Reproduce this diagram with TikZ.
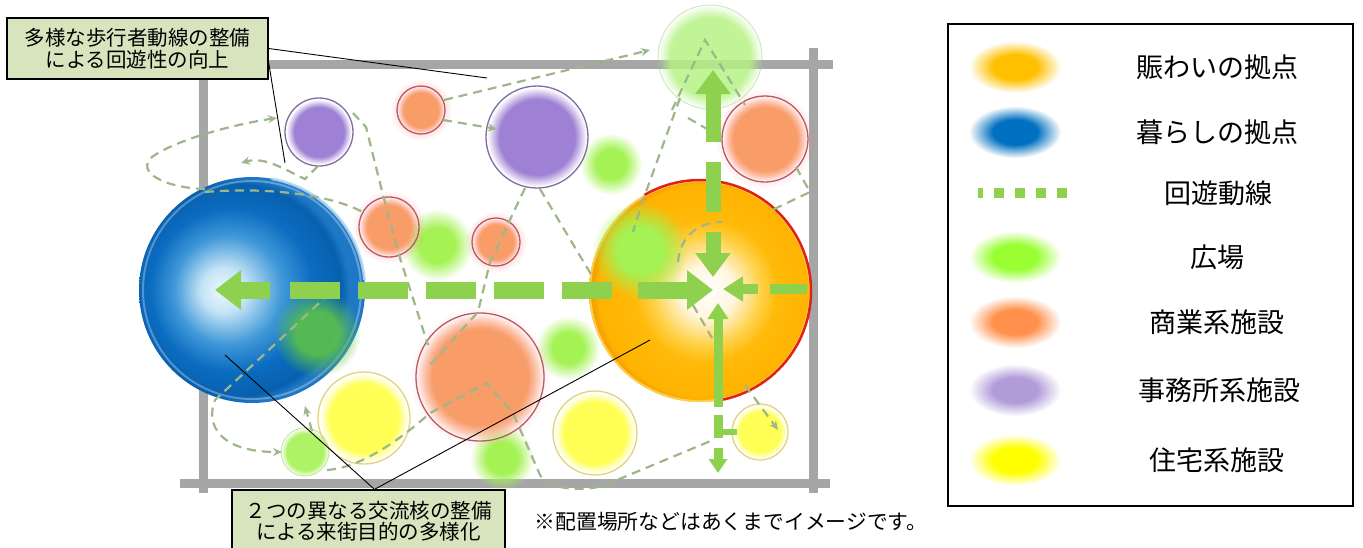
\documentclass[tikz,border=0pt]{standalone}
\usepackage{fontspec}
\setmainfont{Noto Sans CJK JP}
\usetikzlibrary{arrows.meta,fadings}

\definecolor{framegray}{HTML}{A6A6A6}
\definecolor{trailc}{HTML}{9DB78A}
\definecolor{mainarrow}{HTML}{8ED14F}
\definecolor{boxfill}{HTML}{D7E4BD}
\definecolor{greenblob}{HTML}{A4F254}
\definecolor{darkgreenblob}{HTML}{5CC24A}
\definecolor{topgreen}{HTML}{B6F285}
\definecolor{shopc}{HTML}{F99D68}
\definecolor{shopline}{HTML}{B85A62}
\definecolor{halored}{HTML}{FF7070}
\definecolor{officec}{HTML}{9E80D4}
\definecolor{officeline}{HTML}{7F6C9E}
\definecolor{housec}{HTML}{FFFF55}
\definecolor{houseline}{HTML}{E2D27A}
\definecolor{lgOrange}{HTML}{FFC000}
\definecolor{lgBlue}{HTML}{0070C0}
\definecolor{lgGreen}{HTML}{99FF33}
\definecolor{lgShop}{HTML}{FF914D}
\definecolor{lgOffice}{HTML}{B19CD9}
\definecolor{lgHouse}{HTML}{FFFF00}
\definecolor{redrim}{HTML}{E0201A}
\definecolor{yellowrim}{HTML}{FFD75E}
\definecolor{bluegloss}{HTML}{B8DDF5}

\definecolor{bA}{HTML}{EEF8FD}
\definecolor{bB}{HTML}{C4E3F6}
\definecolor{bC}{HTML}{3F98D8}
\definecolor{bD}{HTML}{0B6CC0}
\definecolor{bE}{HTML}{0860AE}
\definecolor{bF}{HTML}{1F78C6}
\pgfdeclareradialshading{blueball}{\pgfpoint{-7bp}{0bp}}{color(0bp)=(bA); color(5bp)=(bB); color(12bp)=(bC); color(18bp)=(bD); color(23.5bp)=(bE); color(25bp)=(bF); color(50bp)=(bF)}

\definecolor{oA}{HTML}{FFFFFF}
\definecolor{oB}{HTML}{FFF6DE}
\definecolor{oC}{HTML}{FFD24A}
\definecolor{oD}{HTML}{FFBA0A}
\definecolor{oE}{HTML}{FFB300}
\definecolor{oF}{HTML}{F5A300}
\pgfdeclareradialshading{orangeball}{\pgfpoint{2bp}{0bp}}{color(0bp)=(oA); color(6bp)=(oB); color(12bp)=(oC); color(16bp)=(oD); color(24bp)=(oE); color(25bp)=(oF); color(50bp)=(oF)}

\pgfdeclareradialshading{fadeblobS}{\pgfpointorigin}{color(0bp)=(white); color(12bp)=(white); color(25bp)=(black); color(50bp)=(black)}
\pgfdeclarefading{blob}{\pgfuseshading{fadeblobS}}
\pgfdeclareradialshading{fadeedgeS}{\pgfpointorigin}{color(0bp)=(white); color(19bp)=(white); color(25bp)=(black); color(50bp)=(black)}
\pgfdeclarefading{edge}{\pgfuseshading{fadeedgeS}}

\newcommand\greenspot[3]{\fill[greenblob, path fading=blob] (#1,#2) circle ({(#3)*1pt});}
\newcommand\facility[5]{%
  \fill[#4, path fading=edge] (#1,#2) circle ({(#3-1.5)*1pt});
  \draw[#5, line width=1.3pt] (#1,#2) circle ({(#3)*1pt});}
\newcommand\shopspot[3]{%
  \fill[halored, opacity=.45, path fading=blob] (#1,#2) circle ({(#3+7)*1pt});
  \facility{#1}{#2}{#3}{shopc}{shopline}}

\tikzset{
  trail/.style={draw=trailc, line width=2.2pt, dash pattern=on 9pt off 6pt},
  trailtip/.style={-{Stealth[length=9pt,width=8pt]}},
  callout/.style={draw=black, line width=1.3pt, fill=boxfill, align=center, inner sep=0pt,
    font=\fontsize{20.5}{21.5}\selectfont},
  calloutline/.style={draw=black, line width=0.9pt},
  legendtext/.style={font=\fontsize{27}{30}\selectfont, anchor=center},
  framebar/.style={draw=framegray, line width=9pt},
}

\begin{document}
\begin{tikzpicture}[x=1pt,y=-1pt]
\useasboundingbox (0,0) rectangle (1363,547);

% frame
\draw[framebar] (195,64) -- (833,64);
\draw[framebar] (203,64) -- (203,493);
\draw[framebar] (813,48) -- (813,493);
\draw[framebar] (180,483) -- (830,483);

% big hubs
\shade[shading=blueball] (252,290) circle (113pt);
\draw[white, opacity=.3, line width=2pt] (252,290) circle (109pt);
\draw[bluegloss, opacity=.8, line width=3pt] (252+19.6,290-111.3) arc[start angle=80, end angle=5, radius=113pt];
\shade[shading=orangeball] (700,291) circle (111pt);
\draw[yellowrim, opacity=.8, line width=2pt] (700,291) circle (110pt);
\draw[redrim, line width=2.5pt] (644.5,194.9) arc[start angle=120, end angle=-78, radius=111pt];

% plazas
\greenspot{611}{164}{31}
\greenspot{437}{245}{36}
\greenspot{640}{250}{48}
\fill[darkgreenblob, opacity=.9, path fading=blob] (317,333) circle (44pt);
\greenspot{568}{348}{32}
\greenspot{502}{458}{32}
\fill[topgreen, opacity=.85, path fading=edge] (710,57) circle (52pt);
\draw[topgreen!70!gray, opacity=.5, line width=1pt] (710,57) circle (52pt);
\fill[greenblob, opacity=.9, path fading=edge] (305,452) circle (24pt);
\draw[greenblob!70!gray, opacity=.5, line width=1pt] (305,452) circle (24pt);

% facilities
\facility{319}{132}{34}{officec}{officeline}
\facility{537}{137}{51}{officec}{officeline}
\shopspot{421}{110}{24}
\shopspot{765}{139}{43}
\shopspot{389}{227}{30}
\shopspot{496}{242}{24}
\shopspot{480}{377}{64}
\facility{364}{418}{46}{housec}{houseline}
\facility{595}{433}{42}{housec}{houseline}
\facility{760}{432}{28}{housec}{houseline}

% thin circulation paths
\draw[trail, trailtip] (205,189) .. controls (165,188) and (135,172) .. (152,157) .. controls (175,140) and (235,124) .. (277,118);
\draw[trail, trailtip] (318,166) -- (305,179) .. controls (285,170) and (265,156) .. (241,163);
\draw[trail] (205,192) .. controls (280,186) and (340,198) .. (366,214);
\draw[trail] (353,113) -- (366,127) -- (383,195) -- (400,258) -- (428,345);
\draw[trail, trailtip] (444,100) -- (650,50);
\draw[trail, trailtip] (443,120) -- (497,129);
\draw[trail] (525,188) -- (490,262) -- (478,312) -- (430,365);
\draw[trail] (540,189) -- (592,276);
\draw[trail] (680,98) -- (643,200) -- (633,232);
\draw[trail] (672,110) -- (705,40) -- (745,105);
\draw[trail] (688,118) -- (726,140);
\draw[trail] (796,167) -- (810,192) -- (768,212);
\draw[trail, trailtip] (330,293) -- (215,400) .. controls (205,425) and (220,452) .. (282,452);
\draw[trail, trailtip] (312,431) -- (305,406);
\draw[trail] (327,470) .. controls (360,468) and (400,440) .. (430,413) -- (487,383) -- (513,413) -- (540,475) .. controls (548,490) and (585,492) .. (605,485) -- (713,440);
\draw[trail, trailtip] (745,385) -- (778,430);
\draw[trail] (693,305) -- (712,338);
\draw[trail] (678,262) .. controls (680,235) and (700,222) .. (722,222);

% main circulation arrows
\draw[mainarrow, line width=17pt, -{Triangle[length=26pt,width=38pt]}] (270,290) -- (215,290);
\draw[mainarrow, line width=17pt, dash pattern=on 50pt off 18pt] (290,290) -- (614,290);
\draw[mainarrow, line width=17pt, -{Triangle[length=26pt,width=38pt]}] (638,290) -- (713,290);
\draw[mainarrow, line width=15pt, -{Triangle[length=24pt,width=34pt]}] (713,142) -- (713,70);
\draw[mainarrow, line width=15pt] (713,162) -- (713,212);
\draw[mainarrow, line width=15pt, -{Triangle[length=24pt,width=34pt]}] (713,232) -- (713,277);
\draw[mainarrow, line width=9pt, -{Triangle[length=16pt,width=20pt]}] (718,407) -- (718,303);
\draw[mainarrow, line width=9pt] (718,415) -- (718,438);
\draw[mainarrow, line width=6pt] (718,432) -- (737,432);
\draw[mainarrow, line width=9pt, -{Triangle[length=14pt,width=18pt]}] (718,448) -- (718,473);
\draw[mainarrow, line width=10pt, -{Triangle[length=20pt,width=24pt]}] (758,289) -- (723,289);
\draw[mainarrow, line width=10pt] (770,289) -- (807,289);

% callouts
\node[callout, minimum width=261pt, minimum height=61pt] (box1) at (137.5,48.5) {多様な歩行者動線の整備\\による回遊性の向上};
\coordinate (c1a) at (487,78);
\coordinate (c1b) at (285,163);
\draw[calloutline] (box1.east) -- (c1a);
\draw[calloutline] ([yshift=-14pt]box1.east) -- (c1b);

\node[callout, minimum width=273pt, minimum height=62pt] (box2) at (368.5,521) {２つの異なる交流核の整備\\による来街目的の多様化};
\coordinate (c2a) at (225,355);
\coordinate (c2b) at (650,340);
\draw[calloutline] ([xshift=6pt]box2.north) -- (c2a);
\draw[calloutline] ([xshift=6pt]box2.north) -- (c2b);

\node[font=\fontsize{20.8}{22}\selectfont] (note) at (731,522) {※配置場所などはあくまでイメージです。};

% legend
\draw[line width=1.5pt] (948,24) rectangle (1353,506);
\fill[lgOrange, path fading=blob] (1015,67) ellipse (46pt and 26pt);
\fill[lgBlue, path fading=blob] (1015,132) ellipse (46pt and 26pt);
\draw[mainarrow, line width=10pt, dash pattern=on 10pt off 11pt, dash phase=5pt] (978,193) -- (1068,193);
\fill[lgGreen, path fading=blob] (1015,257) ellipse (46pt and 26pt);
\fill[lgShop, path fading=blob] (1015,322) ellipse (46pt and 26pt);
\fill[lgOffice, path fading=blob] (1015,390) ellipse (46pt and 26pt);
\fill[lgHouse, path fading=blob] (1015,460) ellipse (46pt and 26pt);
\node[legendtext] (l1) at (1217,67) {賑わいの拠点};
\node[legendtext] (l2) at (1217,132) {暮らしの拠点};
\node[legendtext] (l3) at (1218,193) {回遊動線};
\node[legendtext] (l4) at (1217,257) {広場};
\node[legendtext] (l5) at (1217,322) {商業系施設};
\node[legendtext] (l6) at (1219,390) {事務所系施設};
\node[legendtext] (l7) at (1217,460) {住宅系施設};
\end{tikzpicture}
\end{document}
